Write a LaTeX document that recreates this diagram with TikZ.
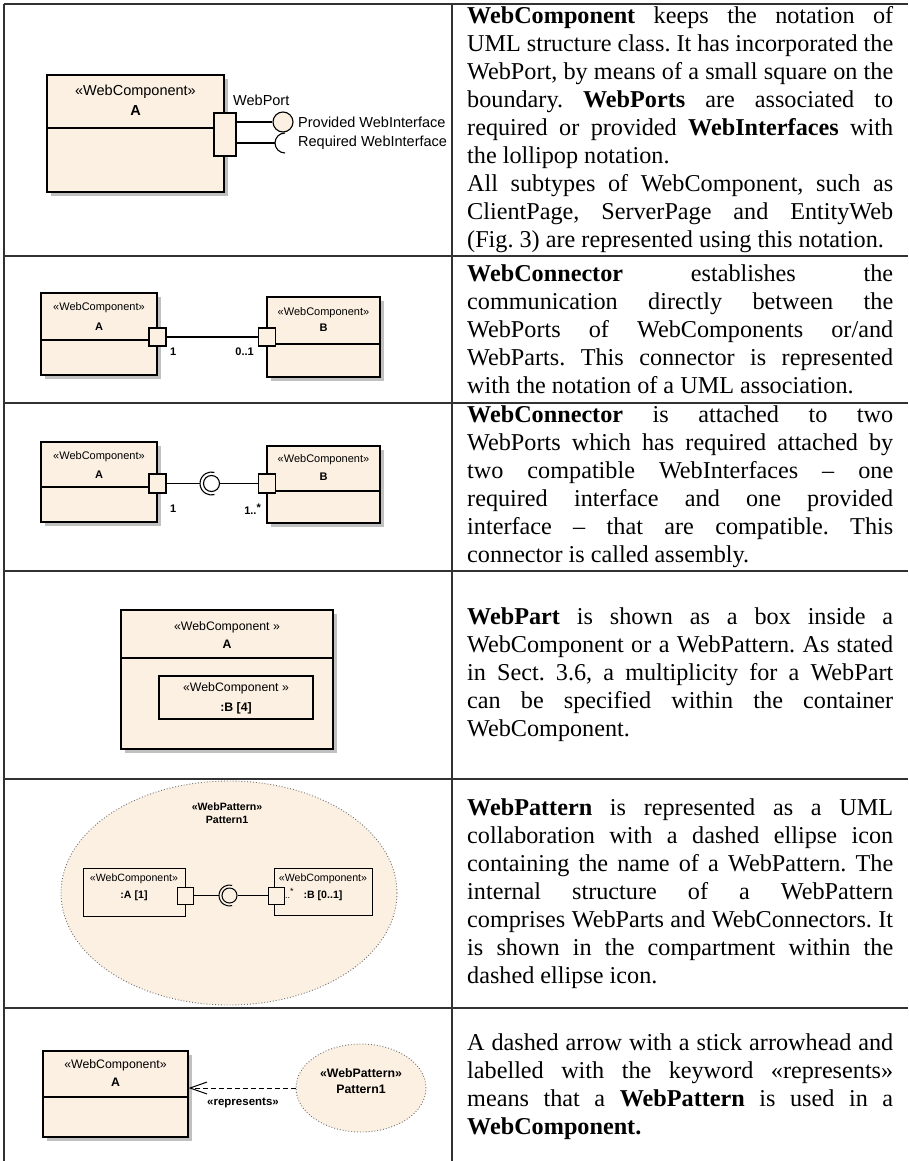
\documentclass[tikz,border=0pt]{standalone}
\usepackage{fontspec}
\setmainfont{Liberation Serif}
\setsansfont{Liberation Sans}
\usetikzlibrary{shapes.geometric,arrows.meta,shadows}
\definecolor{beige}{RGB}{251,240,226}
\definecolor{shade}{RGB}{192,192,192}
\definecolor{rulegray}{RGB}{50,50,50}
\definecolor{dotgray}{RGB}{110,110,110}
\frenchspacing
% one justified line of the description column
\newcommand{\jl}[1]{\makebox[\linewidth][s]{#1}}
\newcommand{\desc}[1]{\parbox{426pt}{\fontsize{24.2}{28}\selectfont #1}}

\begin{document}
\begin{tikzpicture}[x=1pt,y=-1pt,
  cbox/.style={draw=black, line width=1.1pt, fill=beige, rectangle, inner sep=0pt},
  shadowed/.style={drop shadow={shadow xshift=4pt, shadow yshift=-4pt, fill=shade, opacity=1}},
  port/.style={draw=black, line width=1.1pt, fill=beige, rectangle, inner sep=0pt},
  ball/.style={draw=black, line width=1.1pt, circle, inner sep=0pt},
  wire/.style={line width=1.1pt},
  pattern/.style={ellipse, draw=dotgray, dotted, line width=0.9pt, fill=beige, inner sep=0pt},
  lbl/.style={inner sep=0pt},
  fA/.style={lbl, font=\sffamily\fontsize{14.5}{17}\selectfont},
  fB/.style={lbl, font=\sffamily\fontsize{11}{13}\selectfont},
  fBb/.style={lbl, font=\sffamily\bfseries\fontsize{11}{13}\selectfont},
  fC/.style={lbl, font=\sffamily\fontsize{12.3}{14}\selectfont},
  fCb/.style={lbl, font=\sffamily\bfseries\fontsize{12.3}{14}\selectfont},
  fD/.style={lbl, font=\sffamily\fontsize{10.6}{12}\selectfont},
  fDb/.style={lbl, font=\sffamily\bfseries\fontsize{10.6}{12}\selectfont},
  body/.style={inner sep=0pt, anchor=west},
  tabline/.style={draw=rulegray, line width=1.4pt},
]
\useasboundingbox (0,0) rectangle (908,1161);

% ---------- table grid ----------
\draw[tabline] (4,4) -- (908,4);
\draw[tabline] (4,4) -- (4,1161);
\draw[tabline] (452,4) -- (452,1161);
\foreach \yy in {256,403,571,779,1008} \draw[tabline] (4,\yy) -- (908,\yy);

% ---------- row 1: WebComponent with WebPort and interfaces ----------
\node[cbox, shadowed, minimum width=177pt, minimum height=117pt] (c1) at (135.5,133.5) {};
\draw[wire] (c1.west |- 0,128) -- (c1.east |- 0,128);
\node[fA] (c1st) at (135.5,92) {«WebComponent»};
\node[fA, font=\sffamily\bfseries\fontsize{14.5}{17}\selectfont] (c1nm) at (135.5,111) {A};
\node[port, minimum width=22pt, minimum height=43pt] (p1) at (225,134.5) {};
\node[fA, anchor=west] (p1lbl) at (233,100) {WebPort};
\node[ball, fill=beige, minimum size=20pt] (b1) at (283,122) {};
\draw[wire] (p1.east |- b1) -- (b1);
\coordinate (s1) at (275,143);
\draw[wire] (p1.east |- s1) -- (s1);
\draw[wire] (s1) arc[start angle=180, end angle=90, radius=10];
\draw[wire] (s1) arc[start angle=180, end angle=270, radius=10];
\node[fA, anchor=west] (i1p) at (298,122) {Provided WebInterface};
\node[fA, anchor=west] (i1r) at (298,143) {Required WebInterface};

\node[body] (t1) at (467,130) {\desc{%
\jl{\textbf{WebComponent} keeps the notation of}\\
\jl{UML structure class. It has incorporated the}\\
\jl{WebPort, by means of a small square on the}\\
\jl{boundary. \textbf{WebPorts} are associated to}\\
\jl{required or provided \textbf{WebInterfaces} with}\\
the lollipop notation.\\
\jl{All subtypes of WebComponent, such as}\\
\jl{ClientPage, ServerPage and EntityWeb}\\
(Fig. 3) are represented using this notation.}};

% ---------- row 2: association connector ----------
\node[cbox, shadowed, minimum width=116pt, minimum height=82pt] (c2a) at (99,334) {};
\draw[wire] (c2a.west |- 0,340) -- (c2a.east |- 0,340);
\node[cbox, shadowed, minimum width=113pt, minimum height=80pt] (c2b) at (323.5,337) {};
\draw[wire] (c2b.west |- 0,344) -- (c2b.east |- 0,344);
\node[fB] (c2ast) at (99,308) {«WebComponent»};
\node[fBb] (c2anm) at (99,327) {A};
\node[fB] (c2bst) at (323.5,313) {«WebComponent»};
\node[fBb] (c2bnm) at (323.5,328) {B};
\node[port, minimum width=17pt, minimum height=18pt] (p2a) at (157.5,337) {};
\node[port, minimum width=17pt, minimum height=18pt] (p2b) at (267,337) {};
\draw[wire] (p2a) -- (p2b);
\node[fBb, anchor=west] (m2a) at (170,352) {1};
\node[fBb, anchor=east] (m2b) at (254,352) {0..1};

\node[body] (t2) at (467,329.5) {\desc{%
\jl{\textbf{WebConnector} establishes the}\\
\jl{communication directly between the}\\
\jl{WebPorts of WebComponents or/and}\\
\jl{WebParts. This connector is represented}\\
with the notation of a UML association.}};

% ---------- row 3: assembly connector ----------
\node[cbox, shadowed, minimum width=116pt, minimum height=80pt] (c3a) at (99,482) {};
\draw[wire] (c3a.west |- 0,487) -- (c3a.east |- 0,487);
\node[cbox, shadowed, minimum width=113pt, minimum height=77pt] (c3b) at (323.5,484.5) {};
\draw[wire] (c3b.west |- 0,491) -- (c3b.east |- 0,491);
\node[fB] (c3ast) at (99,457) {«WebComponent»};
\node[fBb] (c3anm) at (99,475) {A};
\node[fB] (c3bst) at (323.5,460) {«WebComponent»};
\node[fBb] (c3bnm) at (323.5,477) {B};
\node[port, minimum width=17pt, minimum height=19pt] (p3a) at (157.5,483.5) {};
\node[port, minimum width=17pt, minimum height=19pt] (p3b) at (267,483.5) {};
\node[ball, fill=white, minimum size=16pt] (b3) at (211.5,483.5) {};
\coordinate (s3) at (200,483.5);
\draw[wire] (p3a) -- (s3);
\draw[wire] (b3) -- (p3b);
\draw[wire] (s3) arc[start angle=180, end angle=75, radius=11.5];
\draw[wire] (s3) arc[start angle=180, end angle=285, radius=11.5];
\node[fBb, anchor=west] (m3a) at (170,509) {1};
\node[fBb, anchor=east] (m3b) at (261,509) {1..\raisebox{3pt}{*}};

\node[body] (t3) at (467,487) {\desc{%
\jl{\textbf{WebConnector} is attached to two}\\
\jl{WebPorts which has required attached by}\\
\jl{two compatible WebInterfaces – one}\\
\jl{required interface and one provided}\\
\jl{interface – that are compatible. This}\\
connector is called assembly.}};

% ---------- row 4: WebPart inside a WebComponent ----------
\node[cbox, shadowed, minimum width=212pt, minimum height=139pt] (c4) at (227,679.5) {};
\draw[wire] (c4.west |- 0,658) -- (c4.east |- 0,658);
\node[fC] (c4st) at (227,627) {«WebComponent »};
\node[fCb] (c4nm) at (227,644) {A};
\node[cbox, minimum width=154pt, minimum height=43pt] (c4in) at (236,697.5) {};
\node[fC] (c4inst) at (236,688) {«WebComponent »};
\node[fCb] (c4innm) at (236,708) {:B [4]};

\node[body] (t4) at (467,675) {\desc{%
\jl{\textbf{WebPart} is shown as a box inside a}\\
\jl{WebComponent or a WebPattern. As stated}\\
\jl{in Sect. 3.6, a multiplicity for a WebPart}\\
\jl{can be specified within the container}\\
WebComponent.}};

% ---------- row 5: WebPattern collaboration ----------
\node[pattern, minimum width=336pt, minimum height=224pt] (e5) at (229,893) {};
\node[fDb] (e5st) at (227,807) {«WebPattern»};
\node[fDb] (e5nm) at (227,820) {Pattern1};
\node[cbox, line width=1pt, minimum width=102pt, minimum height=48pt] (c5a) at (134,892) {};
\node[cbox, line width=1pt, minimum width=98pt, minimum height=47pt] (c5b) at (323,891.5) {};
\node[fD] (c5ast) at (134,879) {«WebComponent»};
\node[fDb] (c5anm) at (134,896) {:A [1]};
\node[fD] (c5bst) at (323,879) {«WebComponent»};
\node[fDb] (c5bnm) at (323,896) {:B [0..1]};
\node[port, line width=1pt, minimum width=16pt, minimum height=17pt] (p5a) at (185,895.5) {};
\node[port, line width=1pt, minimum width=16pt, minimum height=17pt] (p5b) at (276,895.5) {};
\node[ball, line width=1pt, fill=beige, minimum size=15pt] (b5) at (229.5,895.5) {};
\coordinate (s5) at (219,895.5);
\draw[line width=1pt] (p5a) -- (s5);
\draw[line width=1pt] (b5) -- (p5b);
\draw[line width=1pt] (s5) arc[start angle=180, end angle=75, radius=10.5];
\draw[line width=1pt] (s5) arc[start angle=180, end angle=285, radius=10.5];
\node[lbl, font=\sffamily\fontsize{9}{10}\selectfont, anchor=west] (m5b) at (285,893) {..\raisebox{4pt}{*}};

\node[body] (t5) at (467,894) {\desc{%
\jl{\textbf{WebPattern} is represented as a UML}\\
\jl{collaboration with a dashed ellipse icon}\\
\jl{containing the name of a WebPattern. The}\\
\jl{internal structure of a WebPattern}\\
\jl{comprises WebParts and WebConnectors. It}\\
\jl{is shown in the compartment within the}\\
dashed ellipse icon.}};

% ---------- row 6: represents dependency ----------
\node[cbox, shadowed, minimum width=145pt, minimum height=86pt] (c6) at (115.5,1094) {};
\draw[wire] (c6.west |- 0,1097) -- (c6.east |- 0,1097);
\node[fC] (c6st) at (115.5,1065) {«WebComponent»};
\node[fCb] (c6nm) at (115.5,1082) {A};
\node[pattern, minimum width=130pt, minimum height=88pt] (e6) at (361,1088) {};
\node[fCb] (e6st) at (361,1073) {«WebPattern»};
\node[fCb] (e6nm) at (361,1089) {Pattern1};
\draw[line width=1pt, dash pattern=on 5pt off 3pt,
      -{Straight Barb[length=17pt,width=12pt,line width=1pt]}]
  (e6.west) -- (e6.west -| c6.east);
\node[lbl, font=\sffamily\bfseries\fontsize{11.5}{13}\selectfont] (r6) at (243,1103) {«represents»};

\node[body] (t6) at (467,1086.5) {\desc{%
\jl{A dashed arrow with a stick arrowhead and}\\
\jl{labelled with the keyword «represents»}\\
\jl{means that a \textbf{WebPattern} is used in a}\\
\textbf{WebComponent.}}};
\end{tikzpicture}
\end{document}
